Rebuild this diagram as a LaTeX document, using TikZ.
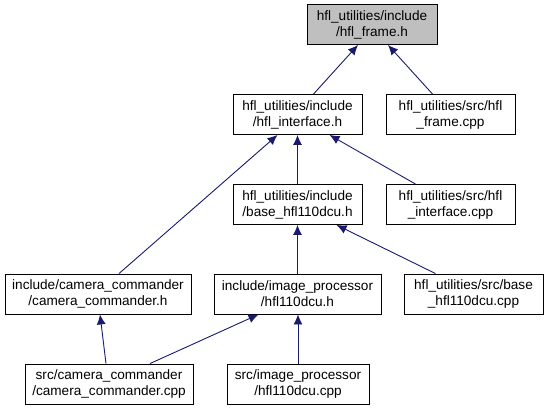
\documentclass[tikz,border=0pt]{standalone}
\usepackage{fontspec}
\setmainfont{Liberation Sans}
\usetikzlibrary {arrows.meta}
\definecolor{edgeblue}{HTML}{191970}
\definecolor{headgray}{HTML}{BFBFBF}

\begin{document}
\begin{tikzpicture}[x=1pt,y=-1pt,
  file/.style={draw=black,line width=0.9pt,rectangle,minimum height=40pt,inner sep=0pt,align=center,font=\fontsize{13.6}{16}\selectfont},
  edge/.style={draw=edgeblue,line width=0.9pt,-{Latex[length=10pt,width=9pt]}}]

\useasboundingbox (0,0) rectangle (548,409);

\node[file,fill=headgray,minimum width=130pt] (frameh) at (372,24.5) {hfl\_utilities/include\\/hfl\_frame.h};
\node[file,minimum width=129pt] (interfaceh) at (297.5,114.5) {hfl\_utilities/include\\/hfl\_interface.h};
\node[file,minimum width=129pt] (framecpp) at (450.5,114.5) {hfl\_utilities/src/hfl\\\_frame.cpp};
\node[file,minimum width=129pt] (baseh) at (297.5,204.5) {hfl\_utilities/include\\/base\_hfl110dcu.h};
\node[file,minimum width=129pt] (interfacecpp) at (450.5,204.5) {hfl\_utilities/src/hfl\\\_interface.cpp};
\node[file,minimum width=186pt] (camh) at (98,294) {include/camera\_commander\\/camera\_commander.h};
\node[file,minimum width=167pt] (imgh) at (297.5,294) {include/image\_processor\\/hfl110dcu.h};
\node[file,minimum width=139pt] (basecpp) at (473.5,294) {hfl\_utilities/src/base\\\_hfl110dcu.cpp};
\node[file,minimum width=168pt] (camcpp) at (109,384) {src/camera\_commander\\/camera\_commander.cpp};
\node[file,minimum width=142pt] (imgcpp) at (298,384) {src/image\_processor\\/hfl110dcu.cpp};

\draw[edge] ([xshift=16pt]interfaceh.north) -- ([xshift=-14pt]frameh.south);
\draw[edge] ([xshift=-18pt]framecpp.north) -- ([xshift=16pt]frameh.south);
\draw[edge] ([xshift=21pt]camh.north) -- ([xshift=-20pt]interfaceh.south);
\draw[edge] (baseh.north) -- (interfaceh.south);
\draw[edge] ([xshift=-35pt]interfacecpp.north) -- ([xshift=32pt]interfaceh.south);
\draw[edge] (imgh.north) -- (baseh.south);
\draw[edge] ([xshift=-38pt]basecpp.north) -- ([xshift=39pt]baseh.south);
\draw[edge] ([xshift=-3pt]camcpp.north) -- ([xshift=2pt]camh.south);
\draw[edge] ([xshift=41pt]camcpp.north) -- ([xshift=-39pt]imgh.south);
\draw[edge] (imgcpp.north) -- ([xshift=0.5pt]imgh.south);
\end{tikzpicture}
\end{document}
